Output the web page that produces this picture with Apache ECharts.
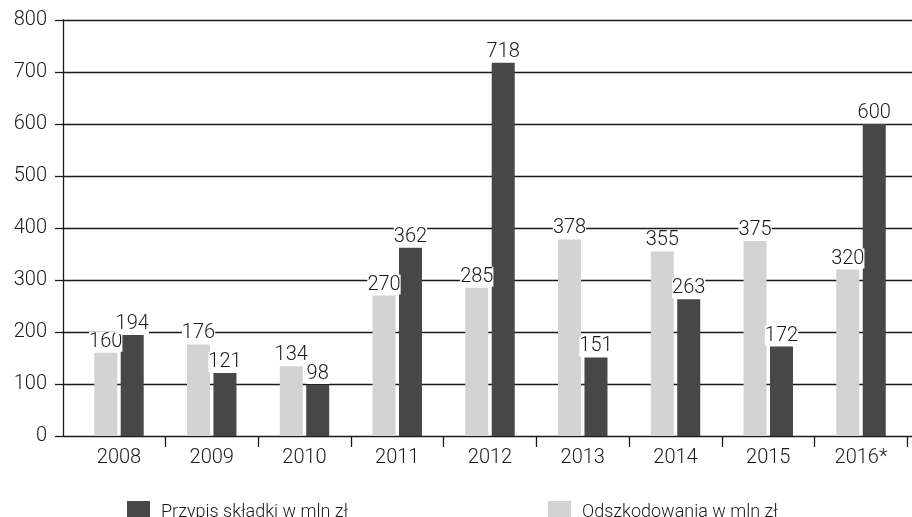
<!DOCTYPE html>
<html lang="pl">
<head>
  <meta charset="UTF-8">
  <title>Przypis składki i odszkodowania</title>
  <script src="https://cdn.jsdelivr.net/npm/echarts@6/dist/echarts.min.js"></script>
  <style>
    html, body { margin: 0; padding: 0; background: #fff; }
    #chart { width: 912px; height: 517px; }
  </style>
</head>
<body>
  <div id="chart"></div>
  <script>
    // dane
    const years = ['2008', '2009', '2010', '2011', '2012', '2013', '2014', '2015', '2016*'];
    const odszkodowania = [160, 176, 134, 270, 285, 378, 355, 375, 320];
    const przypis = [194, 121, 98, 362, 718, 151, 263, 172, 600];
    const yTicks = [0, 100, 200, 300, 400, 500, 600, 700, 800];

    const txt = '#1a1a1a';
    const font = 'Roboto';
    const fs = 20;
    const fw = 300;
    const light = '#d3d3d3';
    const dark = '#474747';

    const chart = echarts.init(document.getElementById('chart'));

    const label = {
      show: true,
      position: 'top',
      distance: 1,
      color: txt,
      fontFamily: font,
      fontSize: fs,
      fontWeight: fw,
      backgroundColor: '#fff'
    };

    chart.setOption({
      animation: false,
      grid: [
        { left: 63, right: 0, top: 20, bottom: 81 },
        { left: 72.6, right: 4.6, top: 20, bottom: 81 }
      ],
      xAxis: [
        { gridIndex: 0, type: 'category', data: years, show: false },
        {
          gridIndex: 1,
          type: 'category',
          data: years,
          axisLine: { show: false },
          axisTick: {
            show: true,
            length: 11,
            lineStyle: { color: txt, width: 1.3 },
            interval: function (i) { return i !== 0 && i !== years.length; }
          },
          axisLabel: { color: txt, fontFamily: font, fontSize: fs, fontWeight: fw, margin: 12 }
        }
      ],
      yAxis: [
        {
          gridIndex: 0,
          type: 'value',
          min: yTicks[0],
          max: yTicks[yTicks.length - 1],
          interval: 100,
          axisLine: { show: true, lineStyle: { color: txt, width: 1.3 } },
          axisTick: { show: true, inside: false, length: 8, lineStyle: { color: txt, width: 1.3 } },
          axisLabel: { color: txt, fontFamily: font, fontSize: fs, fontWeight: fw, margin: 16 },
          splitLine: { show: true, lineStyle: { color: txt, width: 1.3 } }
        },
        { gridIndex: 1, type: 'value', min: 0, max: 800, interval: 100, show: false }
      ],
      legend: [
        {
          data: ['Przypis składki w mln zł'],
          left: 122,
          top: 496,
          itemWidth: 23,
          itemHeight: 23,
          textStyle: { color: txt, fontFamily: font, fontSize: 18, fontWeight: fw, padding: [0, 0, 0, 6] },
          icon: 'rect'
        },
        {
          data: ['Odszkodowania w mln zł'],
          left: 543,
          top: 496,
          itemWidth: 23,
          itemHeight: 23,
          textStyle: { color: txt, fontFamily: font, fontSize: 18, fontWeight: fw, padding: [0, 0, 0, 6] },
          icon: 'rect'
        }
      ],
      series: [
        {
          name: 'Odszkodowania w mln zł',
          type: 'bar',
          xAxisIndex: 1,
          yAxisIndex: 1,
          data: odszkodowania,
          barWidth: 23,
          barGap: '15%',
          itemStyle: { color: light },
          label: label
        },
        {
          name: 'Przypis składki w mln zł',
          type: 'bar',
          xAxisIndex: 1,
          yAxisIndex: 1,
          data: przypis,
          barWidth: 23,
          barGap: '15%',
          itemStyle: { color: dark },
          label: label
        }
      ]
    });
  </script>
</body>
</html>
